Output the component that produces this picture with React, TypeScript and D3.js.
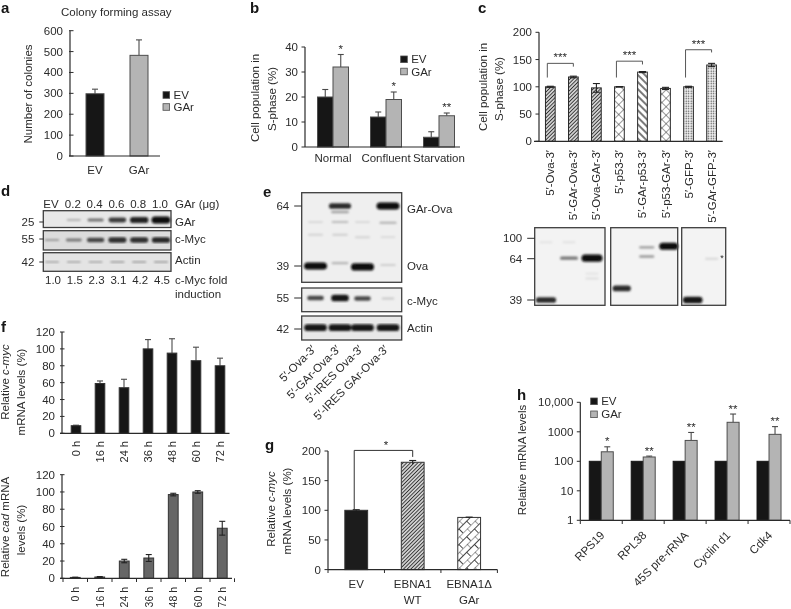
import React from "react";
import * as d3 from "d3";

// ---------- data ----------
const aCats = ["EV", "GAr"];
const aVals = [298, 482];
const aErr = [320, 556];
const aTicks = [0, 100, 200, 300, 400, 500, 600];

const bCats = ["Normal", "Confluent", "Starvation"];
const bEV = [20, 12, 3.9];
const bEVErr = [23, 14, 6.1];
const bGAr = [32, 19, 12.5];
const bGArErr = [37, 22, 13.6];
const bStars = ["*", "*", "**"];
const bTicks = [0, 10, 20, 30, 40];

const cCats = ["5′-Ova-3′", "5′-GAr-Ova-3′", "5′-Ova-GAr-3′", "5′-p53-3′", "5′-GAr-p53-3′", "5′-p53-GAr-3′", "5′-GFP-3′", "5′-GAr-GFP-3′"];
const cVals = [100, 118, 98, 100, 127, 97, 100, 140];
const cErr = [1, 1.5, 8, 0.5, 1, 2, 1, 3];
const cFills = ["dense", "dense", "dense", "cross", "wide", "zig", "dots", "dots"];
const cTicks = [0, 50, 100, 150, 200];
const cBrackets = [
  { from: 0, to: 1, top: 143, l: 117, r: 137 },
  { from: 3, to: 4, top: 147, l: 117, r: 141 },
  { from: 6, to: 7, top: 168, l: 117, r: 163 },
];

const fCats = ["0 h", "16 h", "24 h", "36 h", "48 h", "60 h", "72 h"];
const fMyc = [9, 59, 54, 100, 95, 86, 80];
const fMycErr = [9.6, 62, 64, 111, 112, 102, 89];
const fCad = [1, 1.5, 20, 23.5, 97, 100, 58];
const fCadErr = [1.3, 2, 22, 27.5, 98.5, 101.5, 66];
const fTicks = [0, 20, 40, 60, 80, 100, 120];

const gCats = [["EV"], ["EBNA1", "WT"], ["EBNA1Δ", "GAr"]];
const gVals = [100, 181, 88];
const gErr = [101, 184, 88.5];
const gFills = ["#1a1a1a", "url(#dense)", "url(#brick)"];
const gTicks = [0, 50, 100, 150, 200];

const hCats = ["RPS19", "RPL38", "45S pre-rRNA", "Cyclin d1", "Cdk4"];
const hEV = [100, 100, 100, 100, 100];
const hGAr = [210, 140, 510, 2100, 820];
const hGArErr = [310, 150, 950, 4000, 1500];
const hStars = ["*", "**", "**", "**", "**"];
const hTicks = [1, 10, 100, 1000, 10000];

const dTop = ["EV", "0.2", "0.4", "0.6", "0.8", "1.0"];
const dFold = ["1.0", "1.5", "2.3", "3.1", "4.2", "4.5"];
const dGAr = [0, 0.22, 0.5, 0.75, 0.9, 1];
const dMyc = [0.28, 0.45, 0.7, 0.82, 0.82, 0.85];
const dActin = [0.22, 0.22, 0.22, 0.25, 0.25, 0.25];

// lane, kDa, signal
type Band = [number, number, number];
const c1Bands: Band[] = [[0, 39, 0.85], [1, 65, 0.5], [2, 65, 1], [0, 93, 0.05], [1, 93, 0.06], [2, 52, 0.07], [2, 55, 0.06]];
const c2Bands: Band[] = [[0, 46, 0.85], [1, 84, 0.35], [1, 68, 0.35], [2, 86, 1]];
const c3Bands: Band[] = [[0, 39, 0.95], [1, 64, 0.1]];
const eTopBands: Band[] = [
  [0, 39, 1], [1, 40.2, 0.22], [2, 38.6, 1], [3, 39.4, 0.12],
  [1, 64, 0.85], [3, 64, 1],
  [0, 57.3, 0.09], [0, 52, 0.1], [1, 61.5, 0.3], [1, 57.3, 0.2], [1, 52, 0.12],
  [2, 57.3, 0.09], [2, 51, 0.1], [3, 57, 0.25], [3, 51, 0.08],
];
const eMycBands: Band[] = [[0, 55, 0.72], [1, 55, 0.95], [2, 54.7, 0.7], [3, 54.7, 0.15]];
const eActinBands: Band[] = [[0, 42, 0.95], [1, 42, 0.95], [2, 42, 0.95], [3, 42, 0.95]];
const eCats = ["5′-Ova-3′", "5′-GAr-Ova-3′", "5′-IRES Ova-3′", "5′-IRES GAr-Ova-3′"];

// ---------- style ----------
const INK = "#2b2b2b";
const FS = 11.5;
const BLACK = "#171717";
const GREY = "#b4b4b4";
const EDGE = "#4d4d4d";

function T(p: any) {
  return <text fill={INK} fontSize={FS} {...p} />;
}

function YAxis({ y, x, ticks, fmt, inward, cross }: any) {
  const r = y.range();
  return (
    <g>
      <line x1={x} x2={x} y1={r[0]} y2={r[1]} stroke={INK} strokeWidth={1.2} />
      {ticks.map((t: number) => (
        <g key={t}>
          <line x1={cross ? x - 2 : inward ? x - 1 : x - 3.5} x2={cross ? x + 2.5 : inward ? x + 3.5 : x} y1={y(t)} y2={y(t)} stroke={INK} strokeWidth={1} />
          <T x={x - 7} y={y(t) + 4} textAnchor="end">{fmt ? fmt(t) : t}</T>
        </g>
      ))}
    </g>
  );
}

function Err({ cx, top, low, y, cap = 4 }: any) {
  return (
    <g stroke="#4a4a4a" strokeWidth={1.1}>
      <line x1={cx} x2={cx} y1={y(low)} y2={y(top)} />
      <line x1={cx - cap} x2={cx + cap} y1={y(top)} y2={y(top)} />
    </g>
  );
}

function Bar({ x, w, v, y, fill, base, edge = EDGE }: any) {
  const b = base ?? y.range()[0];
  return <rect x={x} y={y(v)} width={w} height={b - y(v)} fill={fill} stroke={edge} strokeWidth={1} />;
}

function VText({ x, y, children, anchor = "middle", deg = -90, fontSize = FS }: any) {
  return (
    <T transform={`translate(${x},${y}) rotate(${deg})`} textAnchor={anchor} fontSize={fontSize}>
      {children}
    </T>
  );
}

function Legend({ x, y1, y2 }: any) {
  return (
    <g>
      <rect x={x} y={y1 - 3.3} width={6.6} height={6.6} fill={BLACK} stroke={EDGE} strokeWidth={0.8} />
      <T x={x + 10.5} y={y1 + 4}>EV</T>
      <rect x={x} y={y2 - 3.3} width={6.6} height={6.6} fill={GREY} stroke={EDGE} strokeWidth={0.8} />
      <T x={x + 10.5} y={y2 + 4}>GAr</T>
    </g>
  );
}

function Letter({ x, y, c }: any) {
  return <text x={x} y={y} fontSize={15} fontWeight="bold" fill="#151515">{c}</text>;
}

function Blot({ x0, x1, y0, y1, lanes, kda, bands, laneW, bg = "#f1f1f1", bgLevel = 240 }: any) {
  return (
    <g>
      <rect x={x0} y={y0} width={x1 - x0} height={y1 - y0} fill={bg} />
      <g filter="url(#bandBlur)">
        {bands.map(([l, m, s]: Band, i: number) => {
          const w = laneW * (0.5 + 0.5 * Math.sqrt(s));
          const h = 1.8 + 5.4 * s * s;
          const grey = Math.round(bgLevel - (bgLevel - 12) * Math.pow(s, 0.9));
          return (
            <rect key={i} x={lanes(l) - w / 2} y={kda(m) - h / 2} width={w} height={h} rx={h / 2}
              fill={`rgb(${grey},${grey},${grey})`} />
          );
        })}
      </g>
      <rect x={x0} y={y0} width={x1 - x0} height={y1 - y0} fill="none" stroke="#3d3d3d" strokeWidth={1.3} />
    </g>
  );
}

function MwTick({ x, y, label, len = 7.5 }: any) {
  return (
    <g>
      <line x1={x - len} x2={x} y1={y} y2={y} stroke={INK} strokeWidth={1} />
      <T x={x - len - 5} y={y + 4} textAnchor="end">{label}</T>
    </g>
  );
}

function Patterns() {
  return (
    <defs>
      <filter id="soft" x="0" y="0" width="100%" height="100%" filterUnits="objectBoundingBox">
        <feGaussianBlur stdDeviation={0.3} />
      </filter>
      <filter id="bandBlur" x="-20%" y="-20%" width="140%" height="140%">
        <feGaussianBlur stdDeviation={0.85} />
      </filter>
      <pattern id="dense" width={2.6} height={2.6} patternUnits="userSpaceOnUse" patternTransform="rotate(-45)">
        <rect width={2.6} height={2.6} fill="#e8e8e8" />
        <line x1={0} x2={2.6} y1={1.3} y2={1.3} stroke="#333" strokeWidth={1.1} />
      </pattern>
      <pattern id="cross" width={7} height={7} patternUnits="userSpaceOnUse" patternTransform="rotate(45)">
        <rect width={7} height={7} fill="#fff" />
        <path d="M0 0H7M0 0V7" stroke="#333" strokeWidth={1} fill="none" />
      </pattern>
      <pattern id="wide" width={5} height={5} patternUnits="userSpaceOnUse" patternTransform="rotate(45)">
        <rect width={5} height={5} fill="#fff" />
        <line x1={0} x2={5} y1={2} y2={2} stroke="#333" strokeWidth={1.3} />
      </pattern>
      <pattern id="zig" width={6} height={6} patternUnits="userSpaceOnUse" patternTransform="rotate(45)">
        <rect width={6} height={6} fill="#fff" />
        <path d="M0 0H6M0 0V6" stroke="#333" strokeWidth={1} fill="none" />
      </pattern>
      <pattern id="dots" width={2.5} height={2.5} patternUnits="userSpaceOnUse">
        <rect width={2.5} height={2.5} fill="#f4f4f4" />
        <circle cx={1.2} cy={1.2} r={0.7} fill="#444" />
      </pattern>
      <pattern id="brick" width={11} height={11} patternUnits="userSpaceOnUse" patternTransform="rotate(-45)">
        <rect width={11} height={11} fill="#fff" />
        <path d="M0 0H11M0 5.5H11M0 0V5.5M5.5 5.5V11" stroke="#333" strokeWidth={0.9} fill="none" />
      </pattern>
    </defs>
  );
}

function band(cats: any[], a: number, b: number, w: number) {
  const step = (b - a) / cats.length;
  const p = 1 - w / step;
  return d3.scaleBand<any>().domain(cats).range([a, b]).paddingInner(p).paddingOuter(p / 2);
}

function PanelA() {
  const y = d3.scaleLinear().domain([0, 600]).range([156, 30.7]);
  const x = band(aCats, 73, 161, 18);
  return (
    <g>
      <Letter x={1} y={13} c="a" />
      <T x={61} y={16}>Colony forming assay</T>
      <VText x={32} y={94}>Number of colonies</VText>
      <YAxis y={y} x={70} ticks={aTicks} inward />
      {aCats.map((c, i) => (
        <g key={c}>
          <Err cx={x(c)! + 9} top={aErr[i]} low={aVals[i]} y={y} cap={3} />
          <Bar x={x(c)} w={18} v={aVals[i]} y={y} fill={i ? GREY : BLACK} />
          <T x={x(c)! + 9} y={174} textAnchor="middle">{c}</T>
        </g>
      ))}
      <line x1={69} x2={160} y1={156} y2={156} stroke={INK} strokeWidth={1.2} />
      <Legend x={163} y1={95} y2={107} />
    </g>
  );
}

function PanelB() {
  const y = d3.scaleLinear().domain([0, 40]).range([147, 47]);
  const x = band(bCats, 306.5, 465.5, 31);
  const w = x.bandwidth() / 2;
  return (
    <g>
      <Letter x={250} y={13} c="b" />
      <VText x={259} y={98}>Cell population in</VText>
      <VText x={276} y={99}>S-phase (%)</VText>
      <YAxis y={y} x={305} ticks={bTicks} />
      {bCats.map((c, i) => {
        const x0 = x(c)!;
        return (
          <g key={c}>
            <Err cx={x0 + w / 2} top={bEVErr[i]} low={bEV[i]} y={y} cap={3} />
            <Err cx={x0 + w * 1.5} top={bGArErr[i]} low={bGAr[i]} y={y} cap={3} />
            <Bar x={x0} w={w} v={bEV[i]} y={y} fill={BLACK} />
            <Bar x={x0 + w} w={w} v={bGAr[i]} y={y} fill={GREY} />
            <T x={x0 + w * 1.5} y={y(bGArErr[i]) - 2} textAnchor="middle">{bStars[i]}</T>
            <T x={x0 + w} y={162} textAnchor="middle">{c}</T>
          </g>
        );
      })}
      <line x1={305} x2={460} y1={147} y2={147} stroke={INK} strokeWidth={1.2} />
      <Legend x={400.7} y1={59.3} y2={71.5} />
    </g>
  );
}

function PanelC() {
  const y = d3.scaleLinear().domain([0, 200]).range([141.3, 32.3]);
  const x = band(cCats, 538.8, 723.1, 9.7);
  const w = x.bandwidth();
  const kda = d3.scaleLinear().domain([100, 64, 39]).range([238.3, 258.7, 300]);
  const y0 = 227.7, y1 = 305.3;
  return (
    <g>
      <Letter x={478} y={13} c="c" />
      <VText x={487} y={87}>Cell population in</VText>
      <VText x={503} y={89}>S-phase (%)</VText>
      <YAxis y={y} x={539} ticks={cTicks} />
      {cCats.map((c, i) => {
        const cx = x(c)! + w / 2;
        return (
          <g key={c}>
            <Bar x={x(c)} w={w} v={cVals[i]} y={y} fill={`url(#${cFills[i]})`} edge="#2a2a2a" />
            <g stroke="#222" strokeWidth={1.1}>
              <line x1={cx} x2={cx} y1={y(cVals[i] - cErr[i])} y2={y(cVals[i] + cErr[i])} />
              <line x1={cx - 3.5} x2={cx + 3.5} y1={y(cVals[i] + cErr[i])} y2={y(cVals[i] + cErr[i])} />
              <line x1={cx - 3.5} x2={cx + 3.5} y1={y(cVals[i] - cErr[i])} y2={y(cVals[i] - cErr[i])} />
            </g>
            <VText x={cx + 4} y={150} anchor="end">{c}</VText>
          </g>
        );
      })}
      <line x1={534} x2={722.7} y1={141.3} y2={141.3} stroke={INK} strokeWidth={1.2} />
      {cBrackets.map((b) => {
        const xa = x(cCats[b.from])! + w / 2 - 3;
        const xb = x(cCats[b.to])! + w / 2;
        return (
          <g key={b.from}>
            <path d={`M${xa} ${y(b.l)}V${y(b.top)}H${xb}V${y(b.r)}`} fill="none" stroke="#444" strokeWidth={0.9} />
            <T x={(xa + xb) / 2} y={y(b.top) - 2} textAnchor="middle">***</T>
          </g>
        );
      })}
      <Blot x0={534.7} x1={605} y0={y0} y1={y1} lanes={d3.scaleLinear().domain([0, 1, 2]).range([546, 569, 592])} kda={kda} bands={c1Bands} laneW={21} bg="#f3f3f3" bgLevel={243} />
      <Blot x0={610.7} x1={677.7} y0={y0} y1={y1} lanes={d3.scaleLinear().domain([0, 1, 2]).range([621.7, 646.7, 668.7])} kda={kda} bands={c2Bands} laneW={19} bg="#f3f3f3" bgLevel={243} />
      <Blot x0={681.7} x1={725.7} y0={y0} y1={y1} lanes={d3.scaleLinear().domain([0, 1]).range([692.7, 711.7])} kda={kda} bands={c3Bands} laneW={20} bg="#f3f3f3" bgLevel={243} />
      <T x={722} y={260.5} textAnchor="middle" fontSize={9}>*</T>
      {[100, 64, 39].map((m) => <MwTick key={m} x={534.7} y={kda(m)} label={m} />)}
    </g>
  );
}

function PanelD() {
  const lanes = d3.scaleLinear().domain([0, 5]).range([52, 161]);
  const idx = d3.range(6);
  const row = (vals: number[], m: number): Band[] => idx.map((i) => [i, m, vals[i]]);
  return (
    <g>
      <Letter x={1} y={196} c="d" />
      {dTop.map((t, i) => <T key={t} x={lanes(i) - 1} y={208} textAnchor="middle">{t}</T>)}
      <T x={175} y={208}>GAr (μg)</T>
      <Blot x0={43.3} x1={171} y0={210.7} y1={227.5} lanes={lanes} kda={d3.scaleLinear().domain([25, 26]).range([220, 219])} bands={row(dGAr, 25)} laneW={19} bg="#e8e8e8" bgLevel={232} />
      <Blot x0={43.3} x1={171} y0={230.7} y1={250} lanes={lanes} kda={d3.scaleLinear().domain([55, 56]).range([240, 239])} bands={row(dMyc, 55)} laneW={19} bg="#dcdcdc" bgLevel={220} />
      <Blot x0={43.3} x1={171} y0={252.7} y1={271.3} lanes={lanes} kda={d3.scaleLinear().domain([42, 43]).range([262, 261])} bands={row(dActin, 42)} laneW={19} bg="#e4e4e4" bgLevel={228} />
      <MwTick x={43.3} y={222} label="25" len={4} />
      <MwTick x={43.3} y={239} label="55" len={4} />
      <MwTick x={43.3} y={262} label="42" len={4} />
      <T x={175} y={226}>GAr</T>
      <T x={175} y={243}>c-Myc</T>
      <T x={175} y={264}>Actin</T>
      {dFold.map((t, i) => <T key={i} x={lanes(i) + 1} y={284} textAnchor="middle">{t}</T>)}
      <T x={175} y={284}>c-Myc fold</T>
      <T x={175} y={298}>induction</T>
    </g>
  );
}

function PanelE() {
  const lanes = d3.scaleLinear().domain([0, 1, 2, 3]).range([315.5, 340, 362.5, 388]);
  const kda = d3.scaleLinear().domain([64, 39]).range([206, 266]);
  return (
    <g>
      <Letter x={263} y={197} c="e" />
      <Blot x0={301.7} x1={401.7} y0={192.7} y1={282.3} lanes={lanes} kda={kda} bands={eTopBands} laneW={23} bg="#efefef" bgLevel={239} />
      <Blot x0={301.7} x1={401.7} y0={288} y1={311.7} lanes={lanes} kda={d3.scaleLinear().domain([55, 54]).range([298, 299.5])} bands={eMycBands} laneW={18} bg="#efefef" bgLevel={239} />
      <Blot x0={301.7} x1={401.7} y0={316} y1={340} lanes={lanes} kda={d3.scaleLinear().domain([42, 41]).range([327.7, 329])} bands={eActinBands} laneW={23} bg="#e8e8e8" bgLevel={232} />
      <MwTick x={301.7} y={206} label="64" />
      <MwTick x={301.7} y={266} label="39" />
      <MwTick x={301.7} y={298} label="55" />
      <MwTick x={301.7} y={329} label="42" />
      <T x={407} y={213}>GAr-Ova</T>
      <T x={407} y={270}>Ova</T>
      <T x={407} y={305}>c-Myc</T>
      <T x={407} y={332}>Actin</T>
      {eCats.map((c, i) => (
        <VText key={c} x={lanes(i) + 1} y={350} anchor="end" deg={-45}>{c}</VText>
      ))}
    </g>
  );
}

function PanelF() {
  const y1 = d3.scaleLinear().domain([0, 120]).range([433.3, 332]);
  const y2 = d3.scaleLinear().domain([0, 120]).range([578.3, 474.7]);
  const x1 = band(fCats, 64, 232, 9.6);
  const x2 = band(fCats, 63, 234.5, 9.8);
  return (
    <g>
      <Letter x={1} y={332} c="f" />
      <VText x={9} y={382}>Relative <tspan fontStyle="italic">c-myc</tspan></VText>
      <VText x={25} y={392}>mRNA levels (%)</VText>
      <YAxis y={y1} x={62} ticks={fTicks} cross />
      {fCats.map((c, i) => {
        const cx = x1(c)! + 4.8;
        return (
          <g key={c}>
            <Err cx={cx} top={fMycErr[i]} low={fMyc[i]} y={y1} cap={3} />
            <Bar x={x1(c)} w={9.6} v={fMyc[i]} y={y1} fill={BLACK} edge="#333" />
            <VText x={cx + 4} y={441} anchor="end" fontSize={11}>{c}</VText>
          </g>
        );
      })}
      <line x1={60} x2={229.5} y1={433.3} y2={433.3} stroke={INK} strokeWidth={1.2} />

      <VText x={9} y={527}>Relative <tspan fontStyle="italic">cad</tspan> mRNA</VText>
      <VText x={25} y={530}>levels (%)</VText>
      <YAxis y={y2} x={62} ticks={fTicks} cross />
      {fCats.map((c, i) => {
        const cx = x2(c)! + 4.9;
        return (
          <g key={c}>
            <Bar x={x2(c)} w={9.8} v={fCad[i]} y={y2} fill="#666" edge="#333" />
            <g stroke="#222" strokeWidth={1.1}>
              <line x1={cx} x2={cx} y1={y2(2 * fCad[i] - fCadErr[i])} y2={y2(fCadErr[i])} />
              <line x1={cx - 3} x2={cx + 3} y1={y2(fCadErr[i])} y2={y2(fCadErr[i])} />
              <line x1={cx - 3} x2={cx + 3} y1={y2(2 * fCad[i] - fCadErr[i])} y2={y2(2 * fCad[i] - fCadErr[i])} />
            </g>
            <VText x={cx + 4} y={587} anchor="end" fontSize={10.5}>{c}</VText>
          </g>
        );
      })}
      <line x1={60} x2={232} y1={578.3} y2={578.3} stroke={INK} strokeWidth={1.2} />
      {d3.range(8).map((i) => {
        const px = 63 + i * (x2.step());
        return <line key={i} x1={px} x2={px} y1={578.3} y2={582} stroke={INK} strokeWidth={1} />;
      })}
    </g>
  );
}

function PanelG() {
  const y = d3.scaleLinear().domain([0, 200]).range([569.6, 451]);
  const ids = gCats.map((_, i) => i);
  const x = band(ids, 328, 497.4, 22.8);
  const w = x.bandwidth();
  const cx = (i: number) => x(i)! + w / 2;
  return (
    <g>
      <Letter x={265} y={450} c="g" />
      <VText x={275} y={509}>Relative <tspan fontStyle="italic">c-myc</tspan></VText>
      <VText x={291} y={511}>mRNA levels (%)</VText>
      <YAxis y={y} x={328} ticks={gTicks} />
      {ids.map((i) => (
        <g key={i}>
          <Bar x={x(i)} w={w} v={gVals[i]} y={y} fill={gFills[i]} edge="#333" />
          <g stroke="#222" strokeWidth={1.1}>
            <line x1={cx(i)} x2={cx(i)} y1={y(2 * gVals[i] - gErr[i])} y2={y(gErr[i])} />
            <line x1={cx(i) - 3.5} x2={cx(i) + 3.5} y1={y(gErr[i])} y2={y(gErr[i])} />
          </g>
          {gCats[i].map((l, j) => <T key={l} x={cx(i)} y={588 + j * 15.5} textAnchor="middle">{l}</T>)}
        </g>
      ))}
      <path d={`M${cx(0) - 2} ${y(100)}V${y(201)}H${cx(1)}V${y(190)}`} fill="none" stroke="#333" strokeWidth={1} />
      <T x={386} y={449} textAnchor="middle">*</T>
      <line x1={328} x2={497.4} y1={569.6} y2={569.6} stroke={INK} strokeWidth={1.2} />
      {d3.range(4).map((i) => {
        const px = 328 + i * x.step();
        return <line key={i} x1={px} x2={px} y1={569.6} y2={573} stroke={INK} strokeWidth={1} />;
      })}
    </g>
  );
}

function PanelH() {
  const y = d3.scaleLog().domain([1, 10000]).range([520.3, 402.3]);
  const x = band(hCats, 580.3, 790, 24);
  const w = x.bandwidth() / 2;
  return (
    <g>
      <Letter x={517} y={400} c="h" />
      <VText x={526} y={460}>Relative mRNA levels</VText>
      <YAxis y={y} x={580.3} ticks={hTicks} fmt={(t: number) => (t === 10000 ? "10,000" : t)} />
      {hCats.map((c, i) => {
        const x0 = x(c)!;
        return (
          <g key={c}>
            <Err cx={x0 + w * 1.5} top={hGArErr[i]} low={hGAr[i]} y={y} cap={3} />
            <Bar x={x0} w={w} v={hEV[i]} y={y} fill={BLACK} edge={BLACK} />
            <Bar x={x0 + w} w={w} v={hGAr[i]} y={y} fill={GREY} />
            <T x={x0 + w * 1.5} y={y(hGArErr[i]) - 1.5} textAnchor="middle">{hStars[i]}</T>
            <VText x={x0 + w + 4} y={536} anchor="end" deg={-45}>{c}</VText>
          </g>
        );
      })}
      <line x1={580.3} x2={790} y1={520.3} y2={520.3} stroke={INK} strokeWidth={1.2} />
      {d3.range(6).map((i) => {
        const px = 580.3 + i * x.step();
        return <line key={i} x1={px} x2={px} y1={520.3} y2={524} stroke={INK} strokeWidth={1} />;
      })}
      <Legend x={590.7} y1={401.3} y2={414.3} />
    </g>
  );
}

export default function App() {
  return (
    <svg width={791} height={609} viewBox="0 0 791 609"
      style={{ position: "absolute", left: 0, top: 0, background: "#fff", fontFamily: "'Liberation Sans', Arial, sans-serif" }}>
      <Patterns />
      <g filter="url(#soft)">
        <rect width={791} height={609} fill="#fff" />
        <PanelA />
        <PanelB />
        <PanelC />
        <PanelD />
        <PanelE />
        <PanelF />
        <PanelG />
        <PanelH />
      </g>
    </svg>
  );
}
